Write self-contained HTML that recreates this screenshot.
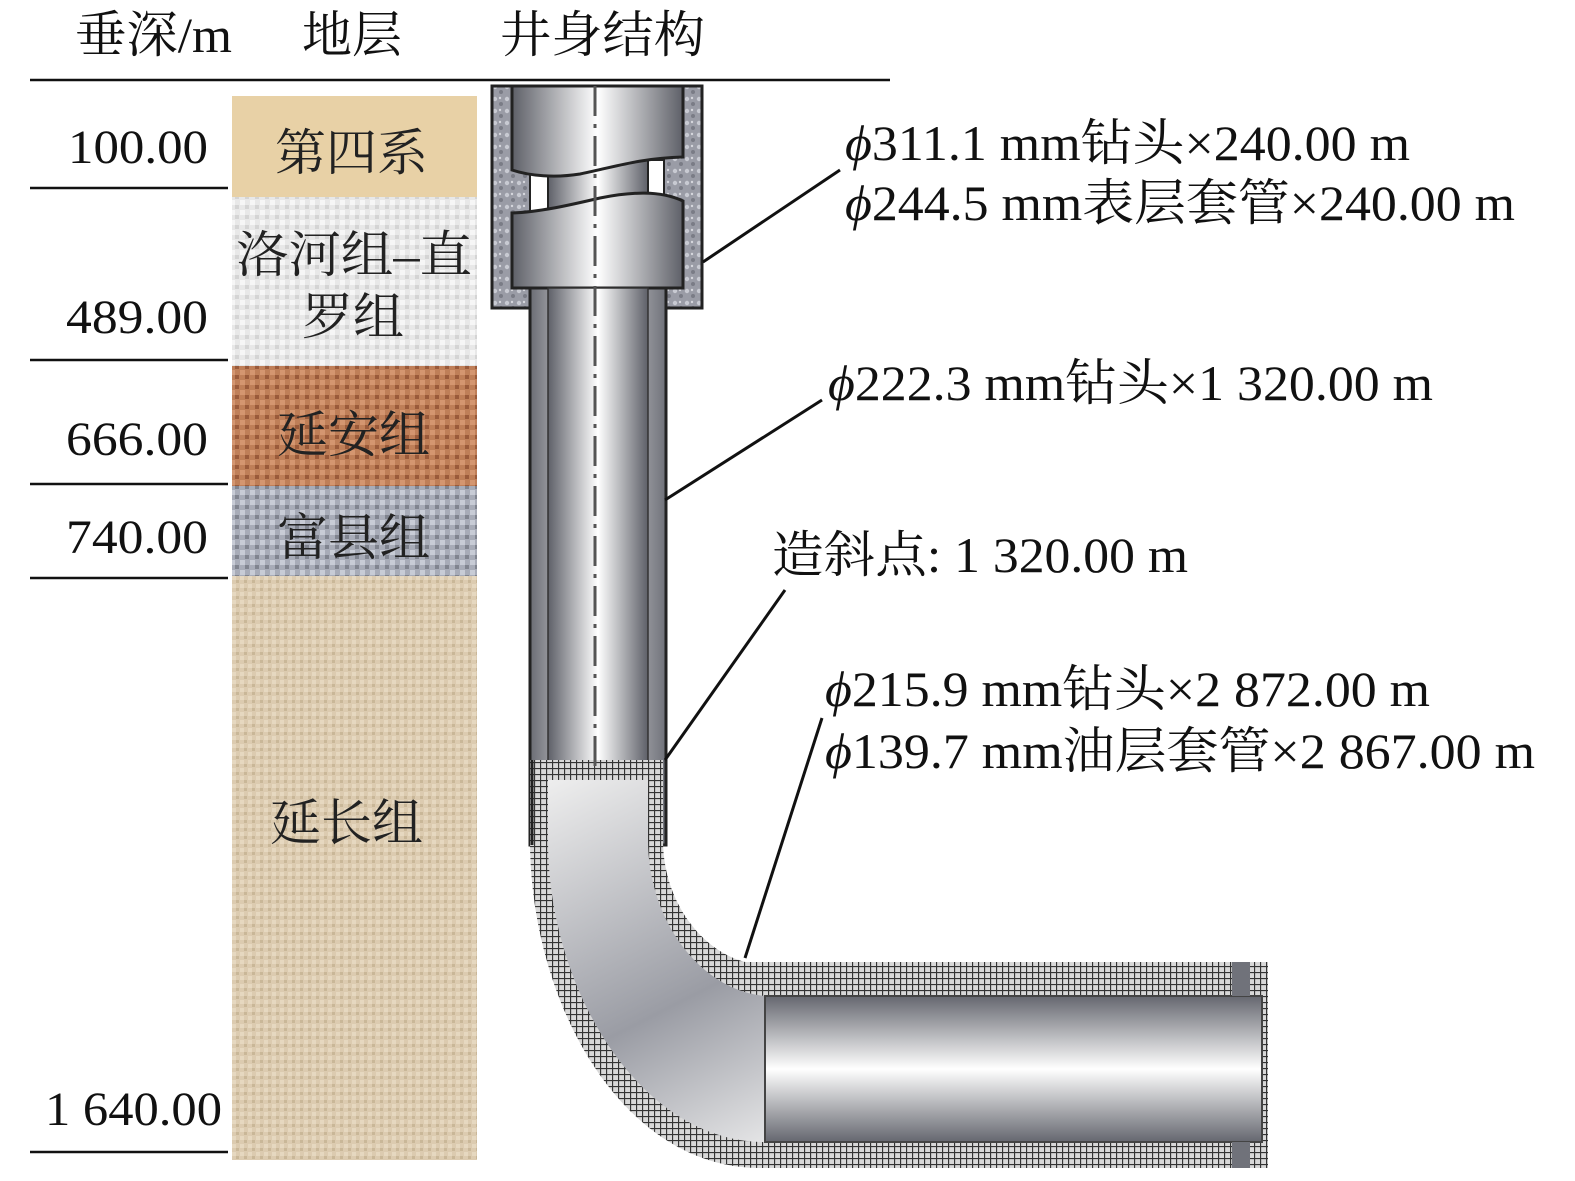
<!DOCTYPE html>
<html><head><meta charset="utf-8"><style>
html,body{margin:0;padding:0;background:#fff;}
svg{display:block}
text{font-family:"Liberation Serif","Noto Serif CJK SC",serif;}
</style></head><body>
<svg width="1575" height="1181" viewBox="0 0 1575 1181" xmlns="http://www.w3.org/2000/svg">
<defs>
<pattern id="hatch" width="6" height="6" patternUnits="userSpaceOnUse">
<rect width="6" height="6" fill="#d8d8d8"/>
<path d="M0 0.5H6M0.5 0V6" stroke="#333" stroke-width="1.3"/>
</pattern>
<pattern id="speck" width="12" height="12" patternUnits="userSpaceOnUse">
<rect width="12" height="12" fill="#9a9ca6"/>
<circle cx="3" cy="3" r="2.2" fill="#c8cad2"/><circle cx="9" cy="8" r="2" fill="#7a7c86"/><circle cx="8" cy="2" r="1.2" fill="#d6d7dd"/>
</pattern>
<linearGradient id="gv" x1="0" x2="1" y1="0" y2="0">
<stop offset="0" stop-color="#5e6068"/><stop offset="0.5" stop-color="#ffffff"/><stop offset="1" stop-color="#5e6068"/>
</linearGradient>
<linearGradient id="gv2" x1="0" x2="1" y1="0" y2="0">
<stop offset="0" stop-color="#6a6c74"/><stop offset="0.45" stop-color="#f4f4f4"/><stop offset="1" stop-color="#70727a"/>
</linearGradient>
<linearGradient id="gh" x1="0" x2="0" y1="0" y2="1">
<stop offset="0" stop-color="#65676f"/><stop offset="0.5" stop-color="#ffffff"/><stop offset="1" stop-color="#65676f"/>
</linearGradient>
<linearGradient id="gb" x1="0" x2="1" y1="0" y2="1">
<stop offset="0" stop-color="#eeeeee"/><stop offset="0.4" stop-color="#9a9ca4"/><stop offset="0.7" stop-color="#f2f2f2"/><stop offset="1" stop-color="#8a8c94"/>
</linearGradient>
<pattern id="tan" width="8" height="8" patternUnits="userSpaceOnUse">
<rect width="8" height="8" fill="#dccbb0"/><rect x="0" y="0" width="4" height="4" fill="#e6d8c0"/><rect x="4" y="4" width="3" height="3" fill="#c9b798"/>
</pattern>
<pattern id="brown" width="10" height="10" patternUnits="userSpaceOnUse">
<rect width="10" height="10" fill="#bf7f58"/><rect width="5" height="5" fill="#d49670"/><rect x="5" y="5" width="4" height="4" fill="#9a5a3a"/>
</pattern>
<pattern id="grayb" width="10" height="10" patternUnits="userSpaceOnUse">
<rect width="10" height="10" fill="#a8acb8"/><rect width="5" height="5" fill="#c8ccd6"/><rect x="5" y="5" width="4" height="4" fill="#80848f"/>
</pattern>
<pattern id="white" width="10" height="10" patternUnits="userSpaceOnUse">
<rect width="10" height="10" fill="#e8e8e8"/><rect width="5" height="5" fill="#f6f6f6"/><rect x="5" y="5" width="4" height="4" fill="#d4d4d4"/>
</pattern>
</defs>

<!-- header -->
<g font-size="50" fill="#111">
<text x="75" y="52" textLength="157" lengthAdjust="spacingAndGlyphs">垂深/m</text>
<text x="302" y="52" textLength="100" lengthAdjust="spacingAndGlyphs">地层</text>
<text x="500" y="52" textLength="205" lengthAdjust="spacingAndGlyphs">井身结构</text>
</g>
<line x1="30" y1="80" x2="890" y2="80" stroke="#111" stroke-width="2.5"/>

<!-- depth -->
<g font-size="48" fill="#111">
<text x="68" y="163" textLength="140" lengthAdjust="spacingAndGlyphs">100.00</text>
<text x="66" y="333" textLength="142" lengthAdjust="spacingAndGlyphs">489.00</text>
<text x="66" y="455" textLength="142" lengthAdjust="spacingAndGlyphs">666.00</text>
<text x="66" y="553" textLength="142" lengthAdjust="spacingAndGlyphs">740.00</text>
<text x="45" y="1125" textLength="177" lengthAdjust="spacingAndGlyphs">1 640.00</text>
</g>
<g stroke="#111" stroke-width="2.5">
<line x1="30" y1="188" x2="228" y2="188"/>
<line x1="30" y1="360" x2="228" y2="360"/>
<line x1="30" y1="484" x2="228" y2="484"/>
<line x1="30" y1="578" x2="228" y2="578"/>
<line x1="30" y1="1152" x2="228" y2="1152"/>
</g>

<!-- strata -->
<rect x="232" y="96" width="245" height="101" fill="#e8d1a6"/>
<rect x="232" y="197" width="245" height="169" fill="url(#white)"/>
<rect x="232" y="366" width="245" height="120" fill="url(#brown)"/>
<rect x="232" y="486" width="245" height="90" fill="url(#grayb)"/>
<rect x="232" y="576" width="245" height="584" fill="url(#tan)"/>
<g font-size="50" fill="#222">
<text x="275" y="170" textLength="153" lengthAdjust="spacingAndGlyphs">第四系</text>
<text x="236" y="272" textLength="236" lengthAdjust="spacingAndGlyphs">洛河组–直</text>
<text x="302" y="334" textLength="102" lengthAdjust="spacingAndGlyphs">罗组</text>
<text x="277" y="452" textLength="153" lengthAdjust="spacingAndGlyphs">延安组</text>
<text x="277" y="555" textLength="153" lengthAdjust="spacingAndGlyphs">富县组</text>
<text x="270" y="840" textLength="153" lengthAdjust="spacingAndGlyphs">延长组</text>
</g>

<!-- surface casing -->
<rect x="492" y="86" width="210" height="222" fill="url(#speck)" stroke="#222" stroke-width="3"/>
<rect x="530" y="160" width="134" height="60" fill="#fff" stroke="#222" stroke-width="2"/>
<rect x="548" y="160" width="100" height="60" fill="url(#gv)" stroke="#222" stroke-width="2"/>
<path d="M512 86 H683 V157 C640 158 610 168 580 174 C555 178 530 176 512 170 Z" fill="url(#gv)" stroke="#222" stroke-width="3"/>
<path d="M512 213 C540 212 570 205 600 198 C630 192 660 190 683 201 V288 H512 Z" fill="url(#gv)" stroke="#222" stroke-width="3"/>

<!-- intermediate casing -->
<rect x="530" y="288" width="136" height="557" fill="url(#gv2)" stroke="#222" stroke-width="3"/>
<rect x="548" y="288" width="100" height="490" fill="url(#gv)" stroke="#333" stroke-width="1.5"/>

<!-- bend + horizontal -->
<path d="M530 760 L530 840 C530 1000 620 1168 760 1168 L1268 1168 L1268 962 L745 962 C700 950 663 900 663 840 L663 760 Z" fill="url(#hatch)"/>
<path d="M548 780 L548 840 C548 990 640 1142 765 1142 L1262 1142 L1262 996 L765 996 C700 990 648 920 648 840 L648 780 Z" fill="url(#gb)"/>
<rect x="765" y="996" width="497" height="146" fill="url(#gh)" stroke="#444" stroke-width="2"/>
<rect x="1232" y="962" width="18" height="34" fill="#70727a"/>
<rect x="1232" y="1142" width="18" height="26" fill="#70727a"/>
<line x1="532" y1="760" x2="532" y2="845" stroke="#222" stroke-width="3"/>

<!-- center line -->
<line x1="595" y1="86" x2="595" y2="770" stroke="#555" stroke-width="3" stroke-dasharray="30,8,4,8"/>

<!-- leaders -->
<g stroke="#111" stroke-width="3">
<line x1="703" y1="262" x2="840" y2="170"/>
<line x1="665" y1="500" x2="822" y2="400"/>
<line x1="665" y1="760" x2="785" y2="590"/>
<line x1="745" y1="958" x2="822" y2="718"/>
</g>

<!-- labels -->
<g font-size="50" fill="#111">
<text x="845" y="160" textLength="565" lengthAdjust="spacingAndGlyphs"><tspan font-style="italic">ϕ</tspan>311.1 mm钻头×240.00 m</text>
<text x="845" y="220" textLength="670" lengthAdjust="spacingAndGlyphs"><tspan font-style="italic">ϕ</tspan>244.5 mm表层套管×240.00 m</text>
<text x="828" y="400" textLength="605" lengthAdjust="spacingAndGlyphs"><tspan font-style="italic">ϕ</tspan>222.3 mm钻头×1 320.00 m</text>
<text x="772" y="572" textLength="416" lengthAdjust="spacingAndGlyphs">造斜点: 1 320.00 m</text>
<text x="825" y="706" textLength="605" lengthAdjust="spacingAndGlyphs"><tspan font-style="italic">ϕ</tspan>215.9 mm钻头×2 872.00 m</text>
<text x="825" y="768" textLength="710" lengthAdjust="spacingAndGlyphs"><tspan font-style="italic">ϕ</tspan>139.7 mm油层套管×2 867.00 m</text>
</g>
</svg>
</body></html>
